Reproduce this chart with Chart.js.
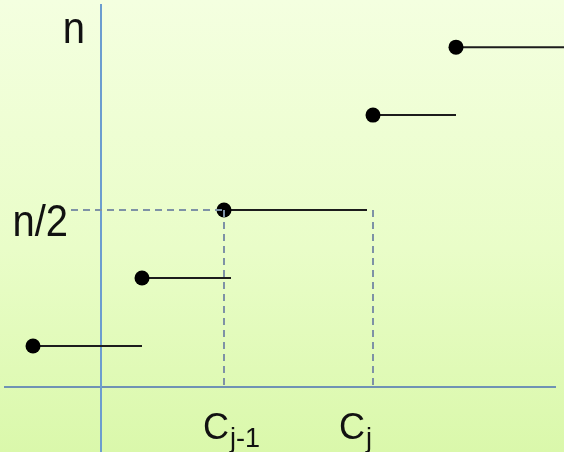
<!DOCTYPE html>
<html>
<head>
<meta charset="utf-8">
<script src="https://cdn.jsdelivr.net/npm/chart.js@4"></script>
<style>
  html, body { margin: 0; padding: 0; }
  body { width: 564px; height: 452px; overflow: hidden;
    background: linear-gradient(to bottom, #f4ffe0 0%, #e9fdc8 55%, #daf8ab 100%); }
  #chart { display: block; }
</style>
</head>
<body>
<canvas id="chart" width="564" height="452"></canvas>
<script>
// step function: each step starts with a filled dot and runs right
let stepStartX = [-6.8, 4.1, 12.3, 27.2, 35.5];
let stepEndX = [4.1, 13.0, 26.6, 35.5, 46.3];
let stepY = [1.16, 3.08, 5, 7.68, 9.6];

// marked positions on the axes
let yTickValues = [10, 5];
let yTickLabels = ["n", "n/2"];
let xTickValues = [12.3, 27.2];
let xTickLabels = [["C", "j-1"], ["C", "j"]];

// dashed guides to n/2
let guideLeftX = -3.0;

let datasets = [];

// dashed guide lines
datasets.push({
  data: [{ x: guideLeftX, y: yTickValues[1] }, { x: xTickValues[0], y: yTickValues[1] }],
});
xTickValues.forEach((v) => {
  datasets.push({ data: [{ x: v, y: yTickValues[1] }, { x: v, y: 0 }] });
});
datasets.forEach((d) => {
  d.showLine = true;
  d.borderColor = "#7e92a6";
  d.borderWidth = 2;
  d.borderDash = [7, 5];
  d.pointRadius = 0;
});

// the steps
stepY.forEach((y, i) => {
  datasets.push({
    data: [{ x: stepStartX[i], y: y }, { x: stepEndX[i], y: y }],
    showLine: true,
    borderColor: "#1c1c1c",
    borderWidth: 2,
    pointRadius: [7.5, 0],
    pointBackgroundColor: "#000",
    pointBorderWidth: 0,
    clip: false,
  });
});

// axis labels drawn next to the axes, with subscripts
const labelPlugin = {
  id: "axisLabels",
  afterDraw(chart) {
    const ctx = chart.ctx;
    const xs = chart.scales.x;
    const ys = chart.scales.y;
    const x0 = xs.getPixelForValue(0);
    const y0 = ys.getPixelForValue(0);
    ctx.save();
    ctx.fillStyle = "#111";
    ctx.textAlign = "right";
    ctx.textBaseline = "alphabetic";
    ctx.font = "40px 'Liberation Sans', Arial, sans-serif";
    const yOff = [[-16, 10], [-33, 26]];
    yTickValues.forEach((v, i) => {
      // the original lettering is a bit taller than it is wide
      ctx.save();
      ctx.translate(x0 + yOff[i][0], ys.getPixelForValue(v) + yOff[i][1]);
      ctx.scale(1, 1.12);
      ctx.fillText(yTickLabels[i], 0, 0);
      ctx.restore();
    });
    ctx.textAlign = "left";
    const xOff = [-21, -34];
    xTickValues.forEach((v, i) => {
      const left = xs.getPixelForValue(v) + xOff[i];
      ctx.font = "36px 'Liberation Sans', Arial, sans-serif";
      ctx.fillText(xTickLabels[i][0], left, y0 + 52);
      const w = ctx.measureText(xTickLabels[i][0]).width;
      ctx.font = "27px 'Liberation Sans', Arial, sans-serif";
      ctx.fillText(xTickLabels[i][1], left + w + 1, y0 + 60);
    });
    ctx.restore();
  },
};

new Chart(document.getElementById("chart"), {
  type: "scatter",
  data: { datasets: datasets },
  options: {
    responsive: false,
    animation: false,
    events: [],
    layout: { autoPadding: false, padding: { left: 5, right: 9, top: 5, bottom: 0 } },
    plugins: { legend: { display: false }, tooltip: { enabled: false } },
    scales: {
      x: {
        type: "linear",
        min: -9.6,
        max: 45.4,
        position: { y: 0 },
        grid: { color: "rgba(0,0,0,0)", drawTicks: false },
        ticks: { display: false },
        border: { color: "#6f92b4", width: 2 },
      },
      y: {
        type: "linear",
        min: -1.836,
        max: 10.79,
        position: { x: 0 },
        grid: { color: "rgba(0,0,0,0)", drawTicks: false },
        ticks: { display: false },
        border: { color: "#6c9dcf", width: 2 },
      },
    },
  },
  plugins: [labelPlugin],
});
</script>
</body>
</html>
